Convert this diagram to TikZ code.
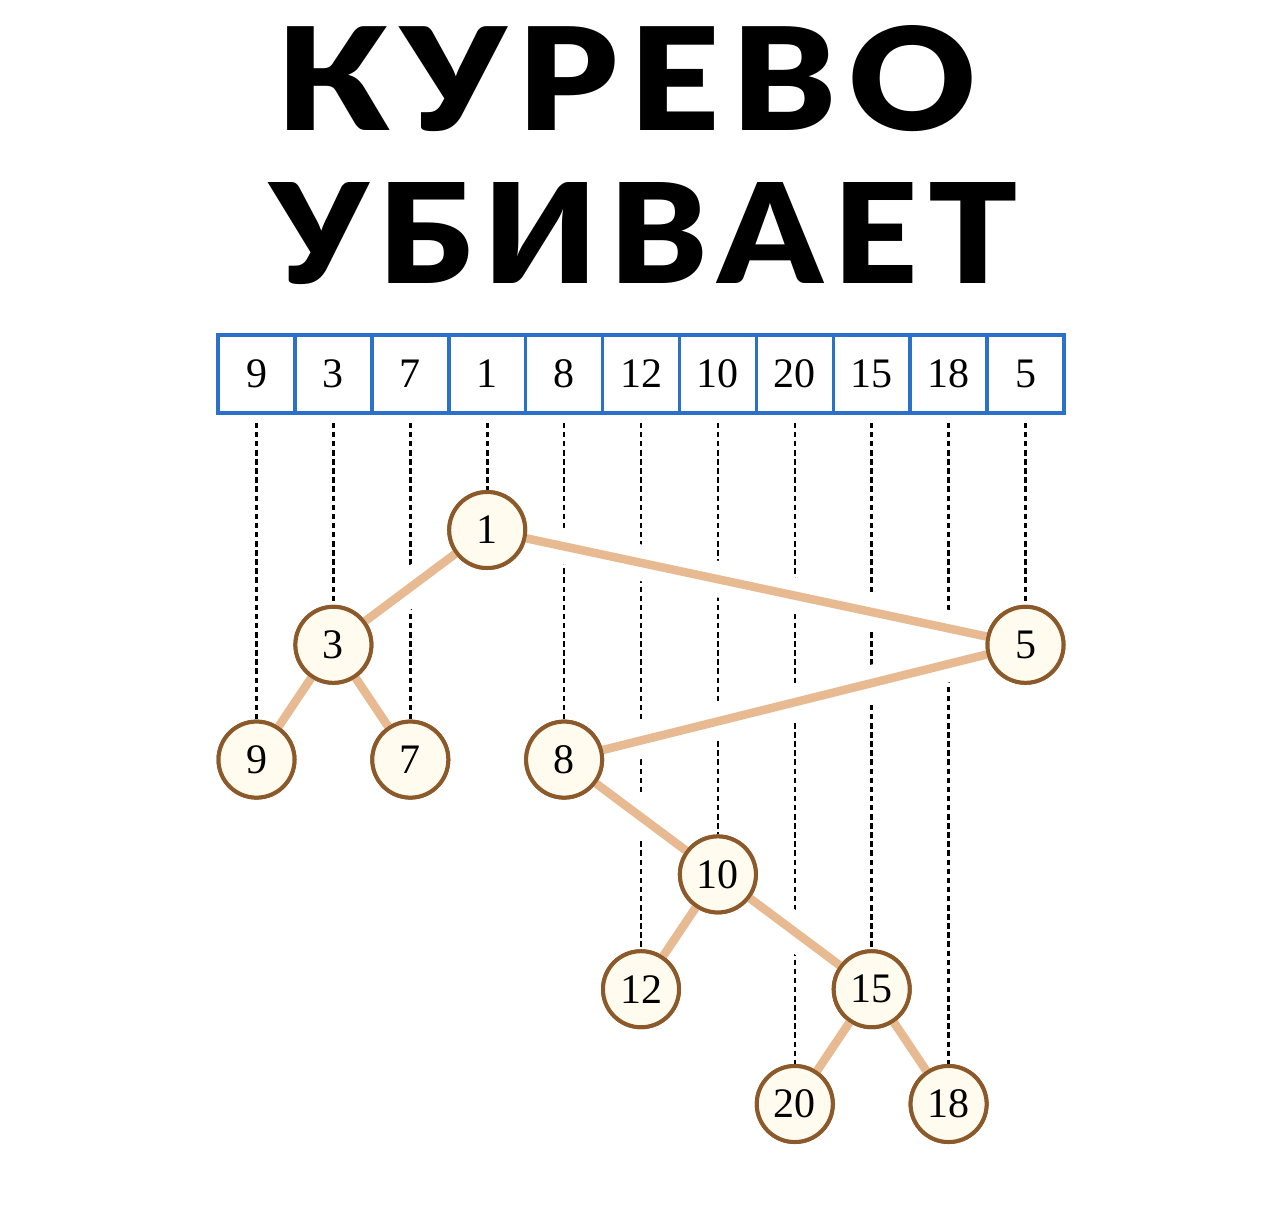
\documentclass[tikz,border=0pt]{standalone}
\usepackage{fontspec}
\setmainfont{Liberation Serif}
\IfFontExistsTF{Lato Black}
  {\newfontfamily\titlefont{Lato Black}\def\titleweight{}}
  {\newfontfamily\titlefont{DejaVu Sans}\def\titleweight{\bfseries}}
\newcommand\tsp{\kern0.075em}
\definecolor{arrblue}{HTML}{2B70C9}
\definecolor{edgetan}{HTML}{E8BA92}
\definecolor{nodebrown}{HTML}{8C5A2A}
\definecolor{nodefill}{HTML}{FFFCEF}
\tikzset{
  cell/.style={draw=arrblue, line width=3.5pt, minimum width=76.9pt, minimum height=78pt, inner sep=0pt, font=\fontsize{42}{42}\selectfont},
  tnode/.style={circle, draw=nodebrown, fill=nodefill, line width=4pt, minimum size=76pt, inner sep=0pt, font=\fontsize{42}{42}\selectfont},
  dline/.style={black, line width=2.6pt, dash pattern=on 5.5pt off 3.6pt},
  halo/.style={white, line width=36pt},
  edgeline/.style={edgetan, line width=8.5pt},
  titletext/.style={inner sep=0pt, font=\titlefont\titleweight\fontsize{140}{140}\selectfont}
}
\begin{document}
\begin{tikzpicture}[x=1pt,y=-1pt]
\useasboundingbox (0,0) rectangle (1281,1227);
\fill[white] (0,0) rectangle (1281,1227);

% title
\node[titletext, anchor=base] (t1) at (626.5,130) {\resizebox{700pt}{105pt}{К\tsp У\tsp Р\tsp Е\tsp В\tsp О}};
\node[titletext, anchor=base] (t2) at (644.5,283) {\resizebox{748pt}{101pt}{У\tsp Б\tsp И\tsp В\tsp А\tsp Е\tsp Т}};

% array
\foreach \v [count=\i from 0] in {9,3,7,1,8,12,10,20,15,18,5}
  \node[cell] (c\i) at ({256.5+76.9*\i},374) {\v};

% tree nodes (named by array index)
\node[tnode] (n3)  at ({256.5+76.9*3},530)    {1};
\node[tnode] (n1)  at ({256.5+76.9*1},644.8)  {3};
\node[tnode] (n10) at ({256.5+76.9*10},644.8) {5};
\node[tnode] (n0)  at ({256.5+76.9*0},759.6)  {9};
\node[tnode] (n2)  at ({256.5+76.9*2},759.6)  {7};
\node[tnode] (n4)  at ({256.5+76.9*4},759.6)  {8};
\node[tnode] (n6)  at ({256.5+76.9*6},874.4)  {10};
\node[tnode] (n5)  at ({256.5+76.9*5},989.2)  {12};
\node[tnode] (n8)  at ({256.5+76.9*8},989.2)  {15};
\node[tnode] (n7)  at ({256.5+76.9*7},1104)   {20};
\node[tnode] (n9)  at ({256.5+76.9*9},1104)   {18};

% dashed projection lines
\foreach \i in {0,...,10}
  \draw[dline] ([yshift=-8pt]c\i.south) -- (n\i.north);

% edges: halo then line
\foreach \a/\b in {3/1,3/10,1/0,1/2,10/4,4/6,6/5,6/8,8/7,8/9}
  \draw[halo] (n\a) -- (n\b);
\foreach \a/\b in {3/1,3/10,1/0,1/2,10/4,4/6,6/5,6/8,8/7,8/9}
  \draw[edgeline] (n\a) -- (n\b);

% redraw nodes on top
\node[tnode] at (n3)  {1};
\node[tnode] at (n1)  {3};
\node[tnode] at (n10) {5};
\node[tnode] at (n0)  {9};
\node[tnode] at (n2)  {7};
\node[tnode] at (n4)  {8};
\node[tnode] at (n6)  {10};
\node[tnode] at (n5)  {12};
\node[tnode] at (n8)  {15};
\node[tnode] at (n7)  {20};
\node[tnode] at (n9)  {18};
\end{tikzpicture}
\end{document}
